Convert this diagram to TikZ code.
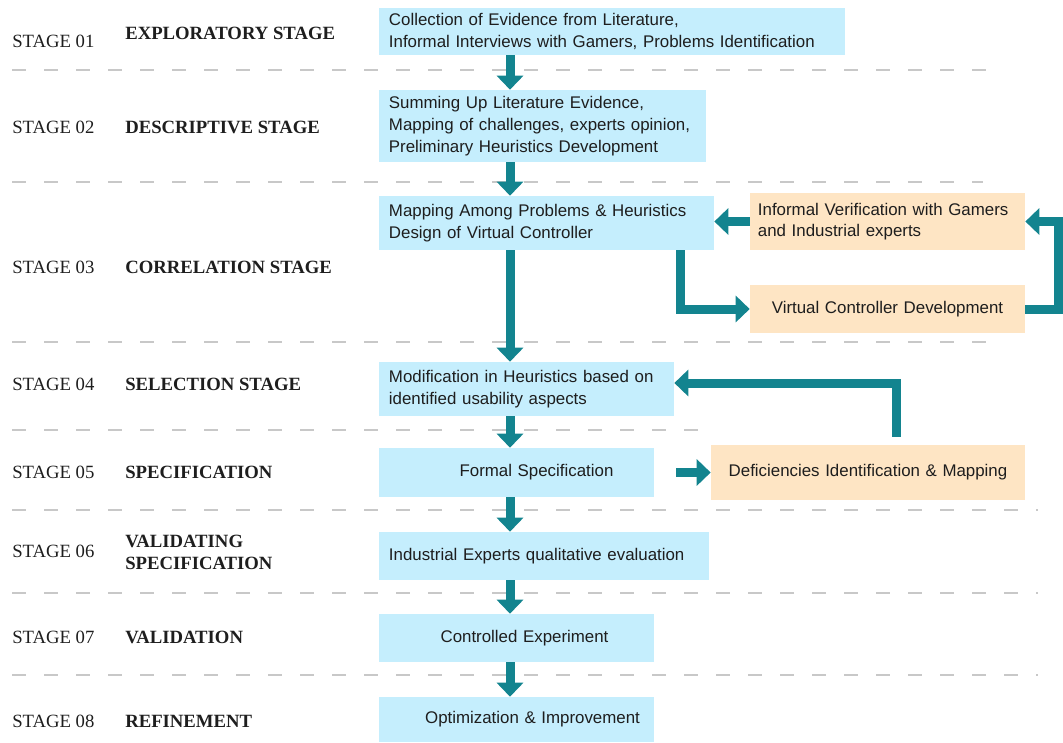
\documentclass[tikz,border=0pt]{standalone}
\usepackage{fontspec}
\setmainfont{Liberation Serif}
\newfontfamily\boxfont{Liberation Sans}
\usepackage{xcolor}
\usepackage{tikz}
\usetikzlibrary{arrows.meta}
\definecolor{StBlue}{RGB}{197,238,253}
\definecolor{StPeach}{RGB}{254,229,196}
\definecolor{StTeal}{RGB}{19,132,143}
\definecolor{StGrey}{RGB}{200,200,200}
\definecolor{StInk}{RGB}{30,30,30}

\begin{document}
\begin{tikzpicture}[x=0.025cm, y=-0.025cm,
      box/.style={rectangle, inner xsep=0.25cm, inner ysep=0pt,
                  text=StInk, font=\boxfont\fontsize{12}{15.4}\selectfont},
      blue/.style={box, fill=StBlue, align=left},
      peach/.style={box, fill=StPeach},
      stg/.style={anchor=west, inner sep=0pt, text=StInk,
                  font=\fontsize{13.3}{15.6}\selectfont},
      phase/.style={stg, align=left, font=\bfseries\fontsize{13.3}{15.6}\selectfont},
      sep/.style={draw=StGrey, line width=0.05cm, dash pattern=on 0.35cm off 0.45cm},
      flow/.style={draw=StTeal, line width=0.225cm,
                   -{Triangle[width=0.65cm, length=0.35cm]}}
    ]
    \useasboundingbox (0,0) rectangle (1063,742);

    % Separators
    \foreach \y/\e in {70/987, 182/983, 342/987, 430/712, 510/1038, 593/1038, 675/1038}
      \draw[sep] (12,\y) -- (\e,\y);

    % Stage names
    \node[stg] (s1) at (12,41)    {STAGE 01};
    \node[stg] (s2) at (12,127.5) {STAGE 02};
    \node[stg] (s3) at (12,267)   {STAGE 03};
    \node[stg] (s4) at (12,384)   {STAGE 04};
    \node[stg] (s5) at (12,472)   {STAGE 05};
    \node[stg] (s6) at (12,551)   {STAGE 06};
    \node[stg] (s7) at (12,637)   {STAGE 07};
    \node[stg] (s8) at (12,721)   {STAGE 08};

    \node[phase] (p1) at (125,33)    {EXPLORATORY STAGE};
    \node[phase] (p2) at (125,127.5) {DESCRIPTIVE STAGE};
    \node[phase] (p3) at (125,267)   {CORRELATION STAGE};
    \node[phase] (p4) at (125,384)   {SELECTION STAGE};
    \node[phase] (p5) at (125,472)   {SPECIFICATION};
    \node[phase] (p6) at (125,552)   {VALIDATING\\SPECIFICATION};
    \node[phase] (p7) at (125,637)   {VALIDATION};
    \node[phase] (p8) at (125,721)   {REFINEMENT};

    % Boxes
    \node[blue, text width=11.15cm, minimum height=1.175cm] (EV) at (612,31.5)
        {Collection of Evidence from Literature,\\Informal Interviews with Gamers, Problems Identification};
    \node[blue, text width=7.675cm, minimum height=1.8cm] (SU) at (542.5,126)
        {Summing Up Literature Evidence,\\Mapping of challenges, experts opinion,\\Preliminary Heuristics Development};
    \node[blue, text width=7.875cm, minimum height=1.35cm] (MP) at (546.5,223)
        {Mapping Among Problems \& Heuristics\\Design of Virtual Controller};
    \node[peach, align=left, inner xsep=0.2cm, text width=6.475cm, minimum height=1.425cm] (IV) at (887.5,221.5)
        {Informal Verification with Gamers\\and Industrial experts};
    \node[peach, align=center, text width=6.375cm, minimum height=1.2cm] (VC) at (887.5,309)
        {Virtual Controller Development};
    \node[blue, text width=6.875cm, minimum height=1.35cm] (MH) at (526.5,389)
        {Modification in Heuristics based on\\identified usability aspects};
    \node[blue, align=center, text width=6.375cm, minimum height=1.225cm] (FS) at (516.5,472.5)
        {\hspace*{1cm}Formal Specification};
    \node[peach, align=center, text width=7.35cm, minimum height=1.375cm] (DI) at (868,472.5)
        {Deficiencies Identification \& Mapping};
    \node[blue, text width=7.75cm, minimum height=1.2cm] (IE) at (544,556)
        {Industrial Experts qualitative evaluation};
    \node[blue, align=center, text width=6.375cm, minimum height=1.2cm] (CE) at (516.5,638)
        {\hspace*{0.4cm}Controlled Experiment};
    \node[blue, align=center, text width=6.375cm, minimum height=1.125cm] (OI) at (516.5,719.5)
        {\hspace*{0.8cm}Optimization \& Improvement};

    % Arrows
    \coordinate (spine) at (510,0);
    \coordinate (split) at (680,0);
    \coordinate (loop)  at (1058,0);
    \coordinate (back)  at (896,0);

    \draw[flow] (spine |- EV.south) -- (spine |- SU.north);
    \draw[flow] (spine |- SU.south) -- (spine |- MP.north);
    \draw[flow] (spine |- MP.south) -- (spine |- MH.north);
    \draw[flow] (spine |- MH.south) -- (spine |- FS.north);
    \draw[flow] (spine |- FS.south) -- (spine |- IE.north);
    \draw[flow] (spine |- IE.south) -- (spine |- CE.north);
    \draw[flow] (spine |- CE.south) -- (spine |- OI.north);

    \draw[flow] (split |- MP.south) |- (VC.west);
    \draw[flow] (VC.east) -- (loop |- VC.east) -- (loop |- IV.east) -- (IV.east);
    \draw[flow] (IV.west) -- (MP.east |- IV.west);
    \draw[flow] ([xshift=0.55cm]FS.east) -- (DI.west);
    \draw[flow] ([yshift=0.2cm]back |- DI.north) |- ([yshift=0.15cm]MH.east);
  \end{tikzpicture}
\end{document}
